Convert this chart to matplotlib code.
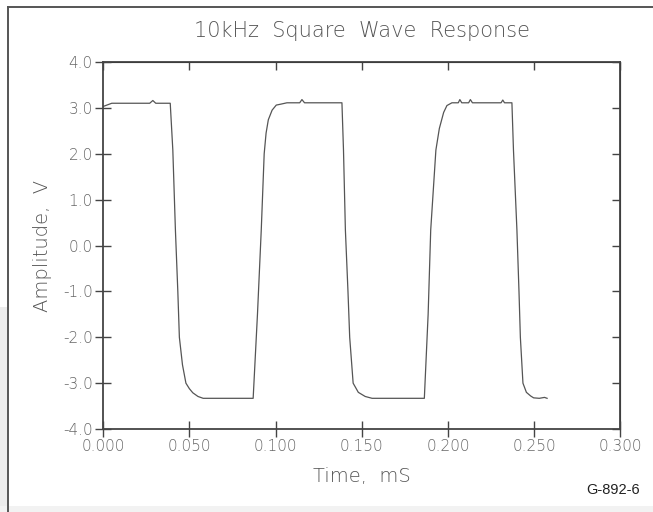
import matplotlib.pyplot as plt
from matplotlib.lines import Line2D
from matplotlib.patches import Rectangle

plt.rcParams['axes.unicode_minus'] = False

# waveform (time in mS, amplitude in V)
time_ms = [0.000, 0.005, 0.027, 0.0288, 0.0305, 0.0389, 0.0404, 0.0419, 0.0433, 0.0442,
           0.0460, 0.0480, 0.0500, 0.0520, 0.0550, 0.0580, 0.0870, 0.0895, 0.0917, 0.0934,
           0.0945, 0.0958, 0.0980, 0.1004, 0.1030, 0.1066, 0.1140, 0.1153, 0.1168, 0.1385,
           0.1394, 0.1405, 0.1420, 0.1430, 0.1450, 0.1480, 0.1520, 0.1560, 0.1863, 0.1885,
           0.1900, 0.1930, 0.1950, 0.1975, 0.1994, 0.2023, 0.2060, 0.2069, 0.2080, 0.2120,
           0.2130, 0.2142, 0.2308, 0.2318, 0.2328, 0.2371, 0.2380, 0.2400, 0.2412, 0.2420,
           0.2435, 0.2455, 0.2480, 0.2497, 0.2530, 0.2560, 0.2575]
amplitude = [3.03, 3.10, 3.10, 3.16, 3.10, 3.10, 2.08, 0.34, -1.00, -2.00,
             -2.60, -3.00, -3.12, -3.21, -3.29, -3.33, -3.33, -1.50, 0.34, 2.00,
             2.45, 2.74, 2.95, 3.06, 3.08, 3.11, 3.11, 3.18, 3.11, 3.11,
             2.08, 0.34, -1.00, -2.00, -3.00, -3.20, -3.29, -3.33, -3.33, -1.50,
             0.34, 2.08, 2.55, 2.90, 3.05, 3.11, 3.11, 3.18, 3.11, 3.11,
             3.18, 3.11, 3.11, 3.17, 3.11, 3.11, 2.08, 0.34, -1.00, -2.00,
             -3.00, -3.20, -3.28, -3.32, -3.33, -3.31, -3.33]

x_ticks = [0.0, 0.05, 0.10, 0.15, 0.20, 0.25, 0.30]
y_ticks = [4.0, 3.0, 2.0, 1.0, 0.0, -1.0, -2.0, -3.0, -4.0]

ink = '#444444'
font = ['DejaVu Sans Condensed', 'DejaVu Sans']

fig = plt.figure(figsize=(6.53, 5.12), dpi=100)
ax = fig.add_axes([0.158, 0.162, 0.792, 0.717])

ax.plot(time_ms, amplitude, color='#555555', lw=0.9)

ax.set_xlim(0, 0.3)
ax.set_ylim(-4.0, 4.0)
ax.set_xticks(x_ticks)
ax.set_yticks(y_ticks)
ax.set_xticklabels([f'{v:.3f}' for v in x_ticks], fontsize=11, color='#666666',
                   fontfamily=font, fontweight='light')
ax.set_yticklabels([f'{v:.1f}' for v in y_ticks], fontsize=11, color='#666666',
                   fontfamily=font, fontweight='light')
ax.tick_params(axis='both', direction='inout', length=11, width=1.0, color=ink, pad=2)

for side in ['left', 'bottom', 'top', 'right']:
    ax.spines[side].set_color(ink)
    ax.spines[side].set_linewidth(1.3)

# ticks pointing inward on top and right
top = ax.secondary_xaxis('top')
top.set_xticks(x_ticks)
top.tick_params(direction='in', length=6, width=1.0, color=ink, labeltop=False)
right = ax.secondary_yaxis('right')
right.set_yticks(y_ticks)
right.tick_params(direction='in', length=6, width=1.0, color=ink, labelright=False)

ax.set_title('10kHz  Square  Wave  Response', fontsize=15, color='#555555',
             fontfamily=font, fontweight='light', pad=18)
ax.set_xlabel('Time,  mS', fontsize=14, color='#555555', fontfamily=font,
              fontweight='light', labelpad=9)
ax.set_ylabel('Amplitude,  V', fontsize=14, color='#555555', fontfamily=font,
              fontweight='light', labelpad=8)

fig.text(0.939, 0.043, 'G-892-6', fontsize=10.5, color='#222222',
         fontfamily='Liberation Sans', ha='center', va='center')

# page border from the scan
fig.add_artist(Rectangle((0, 0), 0.010, 0.4, transform=fig.transFigure,
                         facecolor='#ececec', edgecolor='none'))
fig.add_artist(Rectangle((0, 0), 1.0, 0.012, transform=fig.transFigure,
                         facecolor='#f2f2f2', edgecolor='none'))
fig.add_artist(Line2D([0.013, 0.013], [0.0, 0.987], transform=fig.transFigure,
                      color='#555555', lw=1.4))
fig.add_artist(Line2D([0.013, 1.0], [0.987, 0.987], transform=fig.transFigure,
                      color='#555555', lw=1.4))

fig.savefig('out.png', dpi=100)
